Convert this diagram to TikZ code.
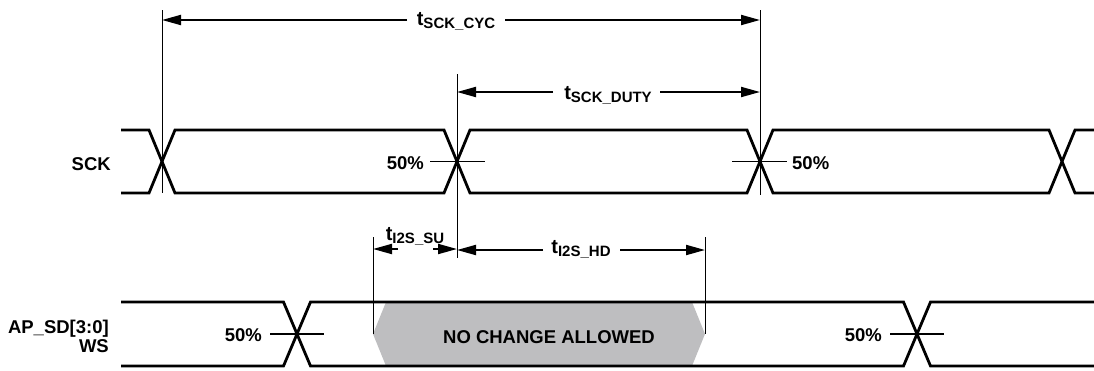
\documentclass[tikz,border=0pt]{standalone}
\usepackage{fontspec}
\setmainfont{Liberation Sans}
\usetikzlibrary{arrows.meta}
\definecolor{hold}{RGB}{190,190,192}
\tikzset{
  sig/.style={line width=2.8pt, line join=miter},
  dimline/.style={line width=1pt},
  tick/.style={line width=1.2pt},
  dimarrow/.style={line width=2pt, -{Triangle[length=19pt,width=10pt]}},
  lbl/.style={font=\fontsize{18.5}{18.5}\selectfont\bfseries, inner sep=0pt},
  tlbl/.style={font=\fontsize{20}{20}\selectfont\bfseries, inner sep=0pt, anchor=base},
}
\newcommand{\tsub}[1]{t\raisebox{-3pt}{\fontsize{15}{15}\selectfont #1}}
\begin{document}
\begin{tikzpicture}[x=1pt,y=-1pt]
\useasboundingbox (0,0) rectangle (1094,370);
% ---- hold region
\fill[hold] (373,334) -- (386,302) -- (692,302) -- (705,334) -- (692,366) -- (386,366) -- cycle;
% ---- SCK waveform
\draw[sig] (121,130) -- (149,130) -- (175,193) -- (444,193) -- (470,130) -- (747,130) -- (773,193) -- (1049,193) -- (1075,130) -- (1094,130);
\draw[sig] (121,193) -- (149,193) -- (175,130) -- (444,130) -- (470,193) -- (747,193) -- (773,130) -- (1049,130) -- (1075,193) -- (1094,193);
% ---- data waveform
\draw[sig] (121,302) -- (283.5,302) -- (310.5,366) -- (903.5,366) -- (930.5,302) -- (1094,302);
\draw[sig] (121,366) -- (283.5,366) -- (310.5,302) -- (903.5,302) -- (930.5,366) -- (1094,366);
% ---- reference coordinates
\coordinate (v1t) at (162,10);  \coordinate (v1b) at (162,193);
\coordinate (v2t) at (457,74);  \coordinate (v2b) at (457,258);
\coordinate (v3t) at (760,10);  \coordinate (v3b) at (760,195);
\coordinate (v4t) at (373,237); \coordinate (v4b) at (373,334);
\coordinate (v5t) at (705,237); \coordinate (v5b) at (705,334);
\draw[dimline] (v1t) -- (v1b);
\draw[dimline] (v2t) -- (v2b);
\draw[dimline] (v3t) -- (v3b);
\draw[dimline] (v4t) -- (v4b);
\draw[dimline] (v5t) -- (v5b);
% ---- 50% ticks
\coordinate (k1a) at (430,161.5); \coordinate (k1b) at (485,161.5);
\coordinate (k2a) at (732,161.5); \coordinate (k2b) at (787,161.5);
\coordinate (k3a) at (270,334);   \coordinate (k3b) at (324,334);
\coordinate (k4a) at (890,334);   \coordinate (k4b) at (944,334);
\draw[tick] (k1a) -- (k1b);
\draw[tick] (k2a) -- (k2b);
\draw[tick] (k3a) -- (k3b);
\draw[tick] (k4a) -- (k4b);
\node[lbl, anchor=base east] (p1) at (424,169) {50\%};
\node[lbl, anchor=base west] (p2) at (792,169) {50\%};
\node[lbl, anchor=base east] (p3) at (262,341.5) {50\%};
\node[lbl, anchor=base east] (p4) at (882,341.5) {50\%};
% ---- signal names
\node[lbl, anchor=base east] (sck) at (111,170) {SCK};
\node[lbl, anchor=base east] (apsd) at (109,333) {AP\_SD[3:0]};
\node[lbl, anchor=base east] (ws) at (109,352) {WS};
\node[lbl, anchor=base] (nca) at (549,343) {NO CHANGE ALLOWED};
% ---- tSCK_CYC
\node[tlbl] (cyc) at (456,25) {\tsub{SCK\_CYC}};
\coordinate (cycL) at (162,20); \coordinate (cycR) at (760,20);
\coordinate (cycLs) at (407,20); \coordinate (cycRs) at (505,20);
\draw[dimarrow] (cycLs) -- (cycL);
\draw[dimarrow] (cycRs) -- (cycR);
% ---- tSCK_DUTY
\node[tlbl] (duty) at (608,99) {\tsub{SCK\_DUTY}};
\coordinate (dutL) at (457,92); \coordinate (dutR) at (760,92);
\coordinate (dutLs) at (553,92); \coordinate (dutRs) at (660,92);
\draw[dimarrow] (dutLs) -- (dutL);
\draw[dimarrow] (dutRs) -- (dutR);
% ---- tI2S_SU
\node[tlbl] (su) at (415,240) {\tsub{I2S\_SU}};
\coordinate (suL) at (373,249); \coordinate (suR) at (457,249);
\coordinate (suLs) at (398,249); \coordinate (suRs) at (433,249);
\draw[dimarrow] (suLs) -- (suL);
\draw[dimarrow] (suRs) -- (suR);
% ---- tI2S_HD
\node[tlbl] (hd) at (581,253) {\tsub{I2S\_HD}};
\coordinate (hdL) at (457,250); \coordinate (hdR) at (705,250);
\coordinate (hdLs) at (543,250); \coordinate (hdRs) at (620,250);
\draw[dimarrow] (hdLs) -- (hdL);
\draw[dimarrow] (hdRs) -- (hdR);
\end{tikzpicture}
\end{document}
